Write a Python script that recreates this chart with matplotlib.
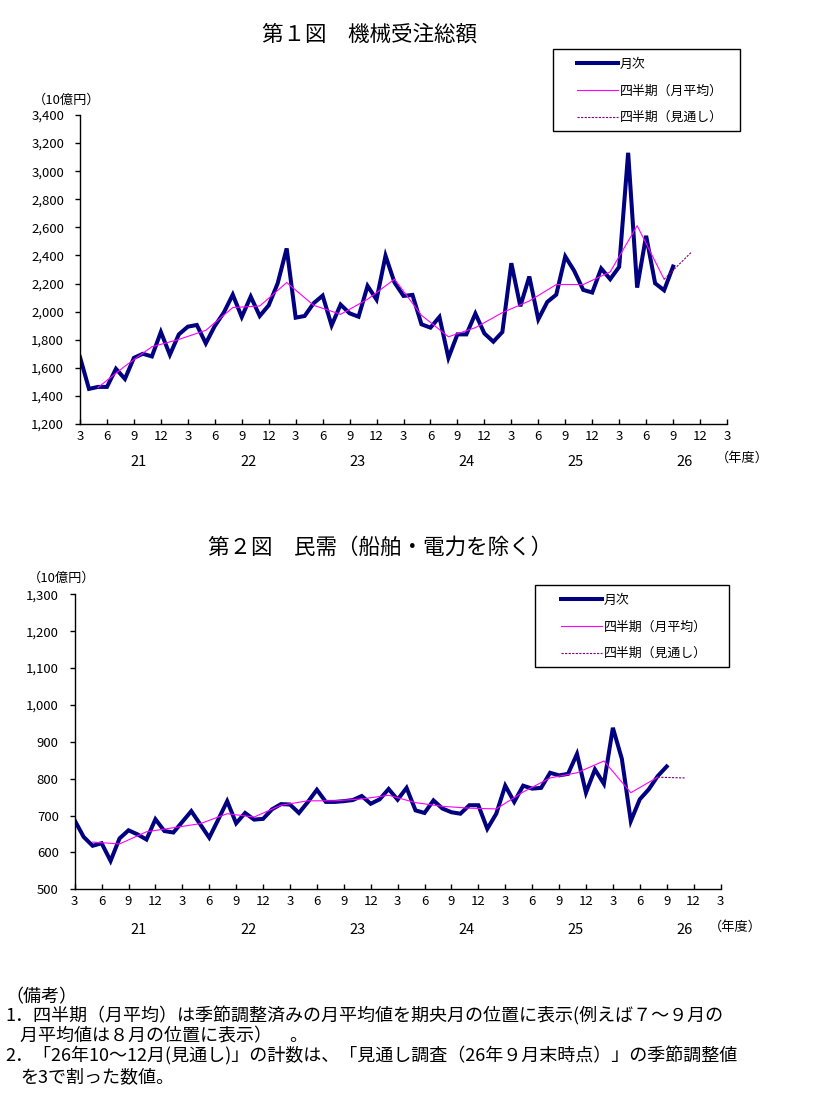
import matplotlib
matplotlib.use("Agg")
import matplotlib.pyplot as plt
from matplotlib.patches import Rectangle

plt.rcParams['font.family'] = ['Noto Sans CJK JP', 'DejaVu Sans']

W, H = 831, 1114

# month index 0 = March (H21), one step per month up to March (H27)
total_monthly = [
    1676, 1450, 1464, 1464, 1593, 1521, 1671, 1700, 1681, 1855, 1693, 1838,
    1893, 1905, 1774, 1898, 1993, 2121, 1962, 2107, 1969, 2045, 2202, 2450,
    1957, 1969, 2060, 2114, 1902, 2050, 1988, 1964, 2183, 2086, 2398, 2207,
    2112, 2119, 1910, 1886, 1962, 1671, 1838, 1838, 1986, 1845, 1786, 1855,
    2345, 2038, 2250, 1945, 2069, 2121, 2393, 2290, 2155, 2136, 2307, 2231,
    2319, 3131, 2171, 2540, 2202, 2152, 2321,
]
total_quarter = [
    1460, 1612, 1750, 1802, 1867, 2029, 2040, 2207, 2045, 1981, 2088,
    2231, 1974, 1821, 1886, 1993, 2076, 2193, 2193, 2283, 2612, 2231,
]
total_outlook = [2231, 2421]

private_monthly = [
    687, 642, 618, 625, 577, 638, 660, 649, 635, 690, 658, 654,
    683, 712, 676, 640, 689, 739, 679, 707, 689, 691, 717, 731,
    730, 707, 737, 770, 737, 737, 739, 742, 753, 732, 744, 772,
    743, 775, 714, 707, 741, 719, 709, 705, 728, 728, 664, 705,
    781, 737, 781, 773, 775, 816, 809, 813, 867, 762, 825, 786,
    938, 854, 685, 744, 771, 807, 833,
]
private_quarter = [
    628, 623, 656, 667, 678, 705, 696, 728, 740, 740, 745,
    755, 735, 725, 720, 718, 764, 802, 816, 848, 762, 804,
]
private_outlook = [804, 802]

quarter_pos = list(range(2, 66, 3))   # middle month of each quarter
outlook_pos = [65, 68]
tick_pos = list(range(0, 73, 3))
tick_labels = [str((2 + i) % 12 + 1) for i in tick_pos]
year_labels = ['21', '22', '23', '24', '25', '26']

series_names = ['月次', '四半期（月平均）', '四半期（見通し）']

notes = [
    '（備考）',
    '1．四半期（月平均）は季節調整済みの月平均値を期央月の位置に表示(例えば７～９月の',
    '月平均値は８月の位置に表示）　。',
    '2．「26年10～12月(見通し)」の計数は、「見通し調査（26年９月末時点）」の季節調整値',
    'を3で割った数値。',
]


def fx(x):
    return x / W


def fy(y):
    return 1 - y / H


fig = plt.figure(figsize=(W / 100, H / 100), dpi=100)


def draw_panel(box, monthly, quarter, outlook, ylim, ystep, title, title_xy,
               unit_xy, frame, legend_xy, year_y, nendo_xy):
    left, top, right, bottom = box
    ax = fig.add_axes([fx(left), fy(bottom), (right - left) / W, (bottom - top) / H])

    ax.plot(range(len(monthly)), monthly, color='#000080', lw=2.9,
            solid_joinstyle='miter', label=series_names[0], zorder=2)
    ax.plot(quarter_pos, quarter, color='#FF00FF', lw=0.8,
            label=series_names[1], zorder=3)
    ax.plot(outlook_pos, outlook, color='#800080', lw=0.8, ls=(0, (2, 1.2)),
            label=series_names[2], zorder=3)

    ax.set_xlim(0, 72)
    ax.set_ylim(*ylim)
    ax.set_xticks(tick_pos, tick_labels)
    yt = list(range(ylim[0], ylim[1] + 1, ystep))
    ax.set_yticks(yt, [f'{v:,}' for v in yt])
    ax.tick_params(axis='x', direction='in', length=3.5, width=1, pad=4, labelsize=9.5)
    ax.tick_params(axis='y', direction='out', length=3.5, width=1, pad=8, labelsize=9.5)
    for s in ['top', 'right']:
        ax.spines[s].set_visible(False)
    for s in ['left', 'bottom']:
        ax.spines[s].set_linewidth(1)
    ax.patch.set_alpha(0)

    fig.text(fx(title_xy[0]), fy(title_xy[1]), title, ha='center', va='center', fontsize=15.5)
    fig.text(fx(unit_xy[0]), fy(unit_xy[1]), '（10億円）', ha='center', va='center', fontsize=9.5)
    for k, lab in enumerate(year_labels):
        fig.text(fx(139 + 109.2 * k), fy(year_y), lab, ha='center', va='center', fontsize=10.5)
    fig.text(fx(nendo_xy[0]), fy(nendo_xy[1]), '（年度）', ha='center', va='center', fontsize=9.5)

    fl, ft, fr, fb = frame
    fig.add_artist(Rectangle((fx(fl), fy(fb)), (fr - fl) / W, (fb - ft) / H,
                             transform=fig.transFigure, fill=False, ec='black', lw=1))
    ax.legend(loc='upper left', bbox_to_anchor=(fx(legend_xy[0]), fy(legend_xy[1])),
              bbox_transform=fig.transFigure, frameon=False, fontsize=9.3,
              handlelength=3.2, handletextpad=0.1, labelspacing=1.05,
              borderpad=0, borderaxespad=0)
    return ax


draw_panel((80, 115, 727, 424), total_monthly, total_quarter, total_outlook,
           (1200, 3400), 200, '第１図　機械受注総額', (369, 35), (67, 100),
           (553, 49, 740, 131), (577, 58), 462, (742, 458))

draw_panel((74.7, 594.3, 720.5, 889.3), private_monthly, private_quarter, private_outlook,
           (500, 1300), 100, '第２図　民需（船舶・電力を除く）', (380, 548), (62, 578),
           (535, 585, 729, 667), (561, 594), 930, (735, 927))

note_pos = [(5, 997), (5, 1016), (20, 1036), (5, 1056), (20, 1077)]
for (x, y), line in zip(note_pos, notes):
    fig.text(fx(x), fy(y), line, ha='left', va='center', fontsize=13)

fig.savefig('out.png', dpi=100)
